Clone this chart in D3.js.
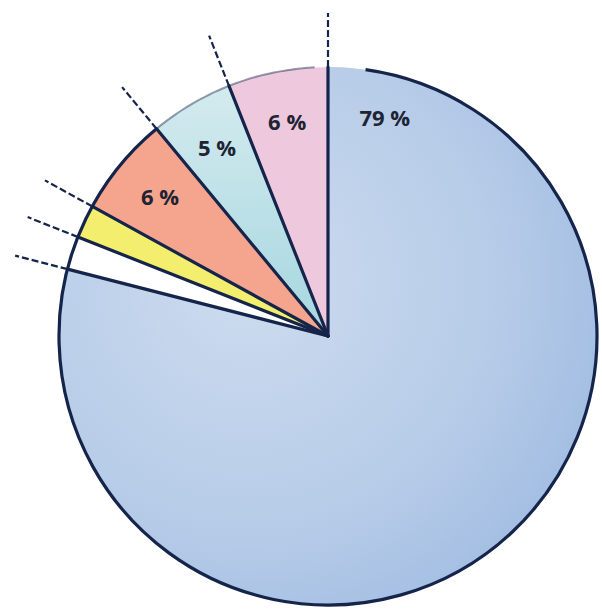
<!DOCTYPE html>
<html>
<head>
<meta charset="utf-8">
<script src="https://cdn.jsdelivr.net/npm/d3@7"></script>
<style>
  body { margin: 0; background: #fff; }
  svg { display: block; }
</style>
</head>
<body>
<div id="chart-area"></div>
<script>
// slices, clockwise from 12 o'clock
var names = ["big", "white", "yellow", "salmon", "cyan", "pink"];
var values = [79, 2, 2, 6, 5, 6];
var labels = ["79 %", "", "", "6 %", "5 %", "6 %"];
var fills = ["url(#blueWash)", "#ffffff", "#f3ee6e", "#f5a58e", "url(#cyanWash)", "#eec8dd"];

var width = 602, height = 616;
var cx = 328, cy = 336, radius = 269, rayLen = 323;
var ink = "#15244a";

var svg = d3.select("#chart-area").append("svg")
	.attr("width", width)
	.attr("height", height);

var defs = svg.append("defs");
var bg = defs.append("radialGradient").attr("id", "blueWash")
	.attr("cx", "35%").attr("cy", "40%").attr("r", "75%");
bg.append("stop").attr("offset", "0%").attr("stop-color", "#cddcef");
bg.append("stop").attr("offset", "60%").attr("stop-color", "#b7cce8");
bg.append("stop").attr("offset", "100%").attr("stop-color", "#9fbbe2");

var cg = defs.append("linearGradient").attr("id", "cyanWash")
	.attr("x1", "0").attr("y1", "0").attr("x2", "0").attr("y2", "1");
cg.append("stop").attr("offset", "0%").attr("stop-color", "#d3ebee");
cg.append("stop").attr("offset", "100%").attr("stop-color", "#a6d6e0");

var g = svg.append("g")
	.attr("transform", "translate(" + cx + "," + cy + ")");

var pie = d3.pie().sort(null).value(function(d) { return d; });
var arcs = pie(values);

var arc = d3.arc().innerRadius(0).outerRadius(radius);

// slice fills
g.selectAll("path.slice")
	.data(arcs)
	.enter().append("path")
	.attr("class", "slice")
	.attr("d", arc)
	.attr("fill", function(d, i) { return fills[i]; })
	.attr("stroke", "none");

// outline arc (drawn round the left and bottom, faint over the top-left)
var solidEnd = arcs[4].startAngle;
var outline = d3.arc().innerRadius(radius).outerRadius(radius);
g.append("path")
	.attr("d", outline({startAngle: 0.14, endAngle: solidEnd}))
	.attr("fill", "none")
	.attr("stroke", ink)
	.attr("stroke-width", 3.2)
	.attr("stroke-linecap", "round");
g.append("path")
	.attr("d", outline({startAngle: solidEnd, endAngle: 2 * Math.PI - 0.05}))
	.attr("fill", "none")
	.attr("stroke", ink)
	.attr("stroke-opacity", 0.45)
	.attr("stroke-width", 2)
	.attr("stroke-dasharray", "14,6");

// rays from the centre at every slice boundary
var bounds = arcs.map(function(d) { return d.startAngle; });
function px(a, r) { return Math.sin(a) * r; }
function py(a, r) { return -Math.cos(a) * r; }

g.selectAll("line.ray")
	.data(bounds)
	.enter().append("line")
	.attr("class", "ray")
	.attr("x1", 0).attr("y1", 0)
	.attr("x2", function(a) { return px(a, radius); })
	.attr("y2", function(a) { return py(a, radius); })
	.attr("stroke", ink)
	.attr("stroke-width", 3.2)
	.attr("stroke-linecap", "round");

g.selectAll("line.rayout")
	.data(bounds)
	.enter().append("line")
	.attr("class", "rayout")
	.attr("x1", function(a) { return px(a, radius); })
	.attr("y1", function(a) { return py(a, radius); })
	.attr("x2", function(a) { return px(a, rayLen); })
	.attr("y2", function(a) { return py(a, rayLen); })
	.attr("stroke", ink)
	.attr("stroke-width", 2.2)
	.attr("stroke-dasharray", "7,3");

// labels
g.selectAll("text.lbl")
	.data(arcs.filter(function(d, i) { return labels[i] !== ""; }))
	.enter().append("text")
	.attr("class", "lbl")
	.attr("x", function(d) {
		var a = d.index === 0 ? d.startAngle + 0.255 : (d.startAngle + d.endAngle) / 2;
		var r = d.index === 0 ? 225 : 218;
		return px(a, r);
	})
	.attr("y", function(d) {
		var a = d.index === 0 ? d.startAngle + 0.255 : (d.startAngle + d.endAngle) / 2;
		var r = d.index === 0 ? 225 : 218;
		return py(a, r);
	})
	.attr("dy", "0.35em")
	.attr("text-anchor", "middle")
	.attr("font-family", "'Open Sans', 'DejaVu Sans', sans-serif")
	.attr("font-weight", "bold")
	.attr("font-size", "22px")
	.attr("fill", "#1e2433")
	.text(function(d) { return labels[d.index]; });
</script>
</body>
</html>
